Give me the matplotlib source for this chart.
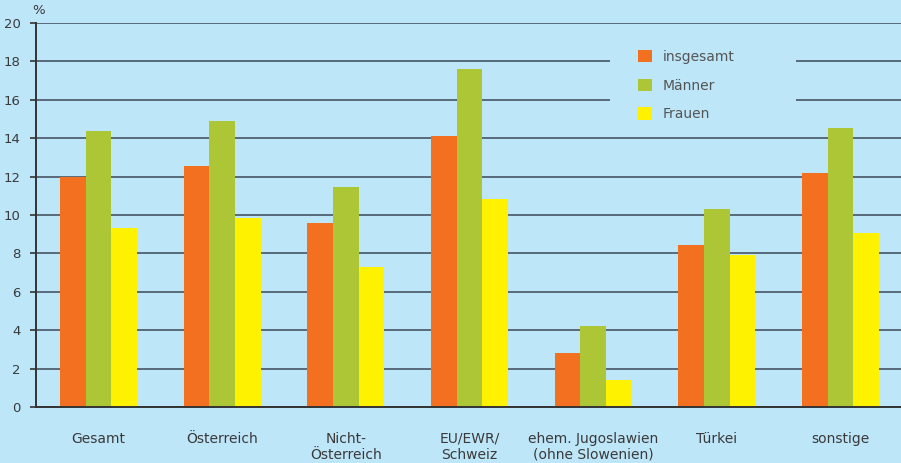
import matplotlib
matplotlib.use("Agg")
import matplotlib.pyplot as plt
import numpy as np
from matplotlib.patches import Rectangle

categories = ["Gesamt", "Österreich", "Nicht-\nÖsterreich", "EU/EWR/\nSchweiz",
              "ehem. Jugoslawien\n(ohne Slowenien)", "Türkei", "sonstige"]
insgesamt = [12.0, 12.56, 9.58, 14.09, 2.8, 8.44, 12.18]
maenner = [14.35, 14.88, 11.45, 17.62, 4.24, 10.33, 14.55]
frauen = [9.3, 9.84, 7.3, 10.82, 1.43, 7.93, 9.04]
series_names = ["insgesamt", "Männer", "Frauen"]
yticks = [0, 2, 4, 6, 8, 10, 12, 14, 16, 18, 20]

BG = "#BDE6F9"
COLORS = ["#F37021", "#ADC636", "#FFF200"]
TXT = "#3a3a3a"

plt.rcParams['font.family'] = ['DejaVu Sans']

fig = plt.figure(figsize=(9.01, 4.63), dpi=100, facecolor=BG)
ax = fig.add_axes([36/901, 1-407/463, 1-36/901, (407-23)/463])
ax.set_facecolor(BG)

x = np.arange(len(categories))
w = 0.208
for i, (vals, name) in enumerate(zip([insgesamt, maenner, frauen], series_names)):
    ax.bar(x + (i-1)*w, vals, width=w, color=COLORS[i], label=name, zorder=3, linewidth=0)

ax.set_xlim(-0.506, 6.49)
ax.set_ylim(0, 20)
ax.set_yticks(yticks)
ax.set_xticks(x)
ax.set_xticklabels(categories, fontsize=10, color=TXT, linespacing=1.15)
ax.tick_params(axis='x', length=0, pad=18)
ax.tick_params(axis='y', length=4, width=1.2, color="#333333", labelsize=9.5, labelcolor=TXT, pad=7)
ax.set_axisbelow(True)
ax.grid(axis='y', color="#4f6170", linewidth=1.3)
for s in ['top', 'right']:
    ax.spines[s].set_visible(False)
ax.spines['left'].set_color("#333333")
ax.spines['bottom'].set_color("#333333")
ax.spines['left'].set_linewidth(1.4)
ax.spines['bottom'].set_linewidth(1.4)
ax.spines['left'].set_zorder(4)
ax.spines['bottom'].set_zorder(4)

# legend area background covering gridlines
ax.add_patch(Rectangle((610/901, 1-127/463), 186/901, 87/463, transform=fig.transFigure,
                       facecolor=BG, edgecolor='none', zorder=1))

leg = ax.legend(loc='upper left', bbox_to_anchor=(638/901, 1-50/463), bbox_transform=fig.transFigure,
                frameon=False, borderpad=0, borderaxespad=0, handlelength=1.0, handleheight=1.0,
                handletextpad=0.8, labelspacing=1.05, fontsize=10)
for t in leg.get_texts():
    t.set_color("#555555")

fig.text(32/901, 1-11/463, "%", fontsize=9.5, color=TXT, ha='left', va='center')

fig.savefig("out.png", dpi=100, facecolor=BG)
